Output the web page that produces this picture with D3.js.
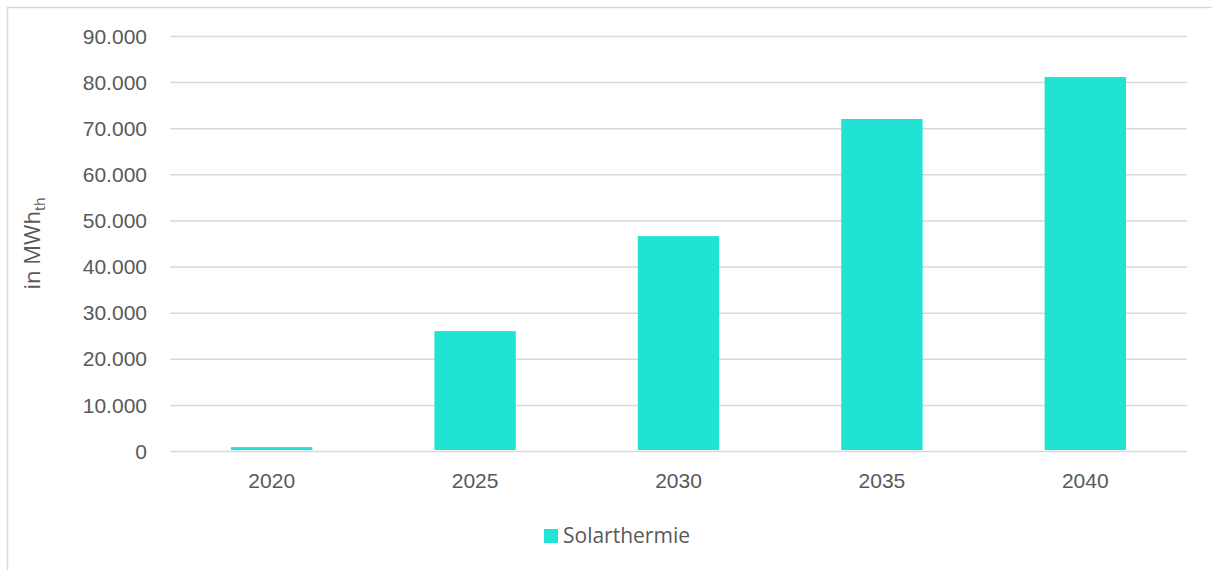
<!DOCTYPE html>
<html><head><meta charset="utf-8">
<script src="https://cdn.jsdelivr.net/npm/d3@7/dist/d3.min.js"></script>
<style>
html,body{margin:0;padding:0;background:#fff;}
svg{display:block;font-family:"Open Sans",sans-serif;}
</style></head>
<body>
<svg id="c" width="1212" height="570"></svg>
<script>
const categories = ["2020","2025","2030","2035","2040"];
const seriesName = "Solarthermie";
const values = [850, 26000, 46600, 72000, 81100];
const yTicks = [0,10000,20000,30000,40000,50000,60000,70000,80000,90000];

const svg = d3.select("#c");
const W = 1212, H = 570;
const m = {left:170, right:25, top:36, bottom:119};
const color = "#21E3D3", textCol = "#595959", gridCol = "#d9d9d9";

// outer border
svg.append("rect").attr("x",7.5).attr("y",7.5).attr("width",W+10).attr("height",H+10)
  .attr("fill","none").attr("stroke",gridCol).attr("stroke-width",1.5);

const x = d3.scaleBand().domain(categories).range([m.left, W-m.right]).paddingInner(0.6).paddingOuter(0.3);
const y = d3.scaleLinear().domain([0,90000]).range([H-m.bottom, m.top]);
const fmt = v => d3.format(",")(v).replace(/,/g,".");

const yAxis = svg.append("g").attr("transform",`translate(${m.left},0)`)
  .call(d3.axisLeft(y).tickValues(yTicks).tickSize(-(W-m.left-m.right)).tickFormat(fmt).tickPadding(23));
yAxis.select(".domain").remove();
yAxis.selectAll(".tick line").attr("stroke",gridCol).attr("stroke-width",1.5);
yAxis.selectAll(".tick text").attr("fill",textCol).style("font-size","21px").attr("dy","0.34em");

svg.append("g").selectAll("rect").data(values).join("rect")
  .attr("x",(d,i)=>x(categories[i])).attr("width",x.bandwidth())
  .attr("y",d=>y(d)).attr("height",d=>y(0)-y(d)-1)
  .attr("fill",color);

const xAxis = svg.append("g").attr("transform",`translate(0,${H-m.bottom})`)
  .call(d3.axisBottom(x).tickSize(0).tickPadding(22));
xAxis.select(".domain").remove();
xAxis.selectAll(".tick text").attr("fill",textCol).style("font-size","21px");

// y title
const yt = svg.append("text").attr("transform",`translate(40,${(m.top+H-m.bottom)/2}) rotate(-90)`)
  .attr("text-anchor","middle").attr("fill",textCol).style("font-size","22px");
yt.append("tspan").text("in MWh");
yt.append("tspan").text("th").style("font-size","14px").attr("dy","5");

// legend
const lg = svg.append("g").attr("transform","translate(544,529)");
lg.append("rect").attr("width",14).attr("height",14).attr("fill",color);
lg.append("text").attr("x",19).attr("y",7).attr("dy","0.35em").attr("fill",textCol)
  .style("font-size","21px").text(seriesName);
</script>
</body></html>
